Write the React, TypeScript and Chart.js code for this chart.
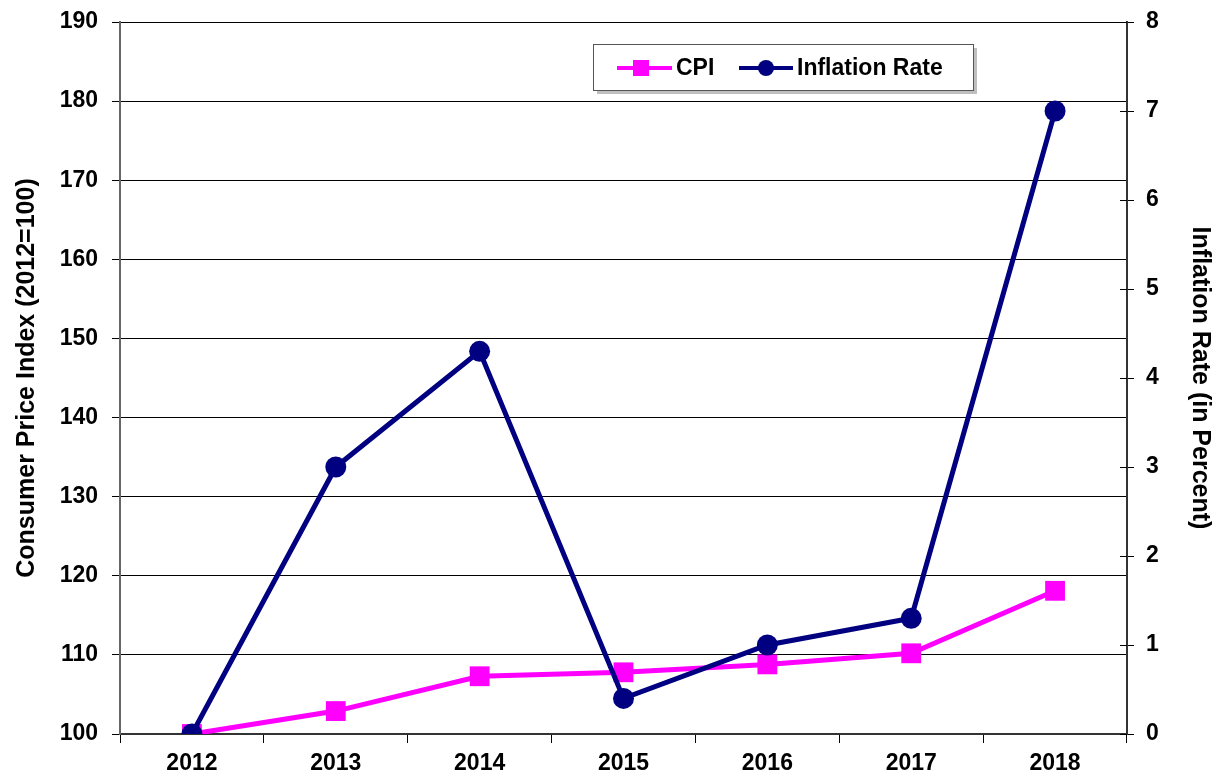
import React, { useEffect, useRef } from "react";
import { Chart, registerables } from "chart.js";

Chart.register(...registerables);

const years = ["2012", "2013", "2014", "2015", "2016", "2017", "2018"];
const cpiValues = [100, 102.9, 107.3, 107.8, 108.8, 110.2, 118.1];
const inflationValues = [0, 3.0, 4.3, 0.4, 1.0, 1.3, 7.0];
const leftTitle = "Consumer Price Index (2012=100)";
const rightTitle = "Inflation Rate (in Percent)";
const cpiLabel = "CPI";
const inflationLabel = "Inflation Rate";

const FONT = "'Liberation Sans', Arial, sans-serif";
const MAGENTA = "#FF00FF";
const NAVY = "#000080";

const customLegend = {
  id: "customLegend",
  afterDraw(chart: any) {
    const ctx = chart.ctx;
    const x = 593, y = 44, w = 380, h = 46;
    ctx.save();
    ctx.fillStyle = "rgba(0,0,0,0.25)";
    ctx.fillRect(x + 4, y + 4, w, h);
    ctx.fillStyle = "#ffffff";
    ctx.fillRect(x, y, w, h);
    ctx.strokeStyle = "#555555";
    ctx.lineWidth = 1;
    ctx.strokeRect(x + 0.5, y + 0.5, w, h);
    const cy = y + 24;
    ctx.strokeStyle = MAGENTA;
    ctx.lineWidth = 4;
    ctx.beginPath();
    ctx.moveTo(617, cy);
    ctx.lineTo(672, cy);
    ctx.stroke();
    ctx.fillStyle = MAGENTA;
    ctx.fillRect(641 - 8, cy - 8, 16, 16);
    ctx.strokeStyle = NAVY;
    ctx.beginPath();
    ctx.moveTo(739, cy);
    ctx.lineTo(793, cy);
    ctx.stroke();
    ctx.fillStyle = NAVY;
    ctx.beginPath();
    ctx.arc(766, cy, 8, 0, Math.PI * 2);
    ctx.fill();
    ctx.fillStyle = "#000";
    ctx.font = `bold 23px ${FONT}`;
    ctx.textBaseline = "middle";
    ctx.textAlign = "left";
    ctx.fillText(cpiLabel, 676, cy + 1);
    ctx.fillText(inflationLabel, 797, cy + 1);
    ctx.restore();
  },
};

const innerTicks = {
  id: "innerTicks",
  afterDatasetsDraw(chart: any) {
    const ctx = chart.ctx;
    const y1 = chart.scales.y1;
    ctx.save();
    ctx.strokeStyle = "#000";
    ctx.lineWidth = 1;
    y1.ticks.forEach((t: any) => {
      const py = Math.round(y1.getPixelForValue(t.value)) + 0.5;
      ctx.beginPath();
      ctx.moveTo(chart.chartArea.right - 7, py);
      ctx.lineTo(chart.chartArea.right, py);
      ctx.stroke();
    });
    ctx.restore();
  },
};

export default function App() {
  const ref = useRef<HTMLCanvasElement>(null);
  useEffect(() => {
    document.body.style.margin = "0";
    const tickFont = { family: FONT, size: 23, weight: "bold" as const };
    const titleFont = { family: FONT, size: 25, weight: "bold" as const, lineHeight: 1 };
    const chart = new Chart(ref.current!, {
      type: "line",
      data: {
        labels: years,
        datasets: [
          {
            label: inflationLabel,
            data: inflationValues,
            yAxisID: "y1",
            borderColor: NAVY,
            backgroundColor: NAVY,
            borderWidth: 5,
            pointStyle: "circle",
            pointRadius: 10.5,
            pointBorderWidth: 0,
            tension: 0,
            order: 0,
          },
          {
            label: cpiLabel,
            data: cpiValues,
            yAxisID: "y",
            borderColor: MAGENTA,
            backgroundColor: MAGENTA,
            borderWidth: 5,
            pointStyle: "rect",
            pointRadius: 14,
            pointBorderWidth: 0,
            tension: 0,
            order: 1,
          },
        ],
      },
      options: {
        animation: false,
        responsive: false,
        layout: { padding: { top: 22, left: 0, right: 0, bottom: 0 } },
        plugins: { legend: { display: false }, tooltip: { enabled: false } },
        scales: {
          x: {
            offset: true,
            grid: {
              offset: true,
              drawOnChartArea: false,
              color: "#000",
              tickLength: 9,
            },
            border: { color: "#333", width: 2 },
            ticks: { color: "#000", font: tickFont, padding: 7 },
            afterFit: (s: any) => { s.height = 39; s.paddingLeft = 0; s.paddingRight = 0; },
          },
          y: {
            position: "left",
            min: 100,
            max: 190,
            ticks: { stepSize: 10, color: "#000", font: tickFont, padding: 14 },
            grid: { color: "#000", tickLength: 8, lineWidth: 1 },
            border: { color: "#666", width: 2 },
            title: { display: true, text: leftTitle, color: "#000", font: titleFont, padding: { top: 15, bottom: 0 } },
            afterFit: (s: any) => { s.width = 120; s.paddingTop = 0; s.paddingBottom = 0; },
          },
          y1: {
            position: "right",
            min: 0,
            max: 8,
            ticks: { stepSize: 1, color: "#000", font: tickFont, padding: 12 },
            grid: { drawOnChartArea: false, color: "#000", tickLength: 7 },
            border: { color: "#333", width: 2 },
            title: { display: true, text: rightTitle, color: "#000", font: titleFont, padding: { top: 3, bottom: 0 } },
            afterFit: (s: any) => { s.width = 88; s.paddingTop = 0; s.paddingBottom = 0; },
          },
        },
      },
      plugins: [innerTicks, customLegend],
    });
    return () => chart.destroy();
  }, []);
  return (
    <div style={{ width: 1215, height: 773 }}>
      <canvas ref={ref} width={1215} height={773} style={{ display: "block" }} />
    </div>
  );
}
